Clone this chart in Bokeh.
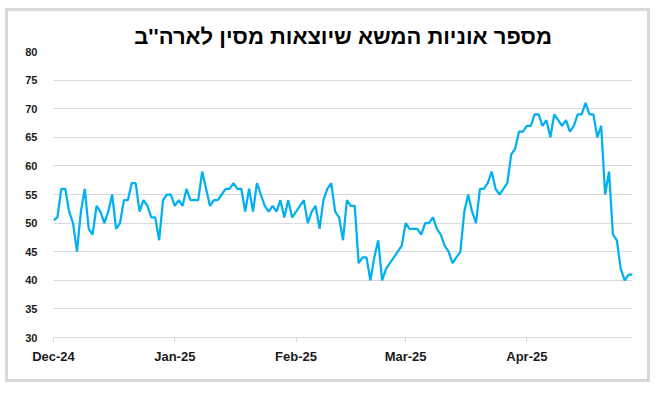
import pandas as pd
from bokeh.plotting import figure
from bokeh.models import Range1d, DatetimeTickFormatter, MonthsTicker, SingleIntervalTicker
from bokeh.embed import file_html
from bokeh.resources import INLINE

title_text = "מספר אוניות המשא שיוצאות מסין לארה''ב"
start_date = "2024-12-01"
axis_end = "2025-04-28"

ships = [
    50.5, 51, 56, 56, 52, 50, 45, 52, 56, 49,
    48, 53, 52, 50, 52, 55, 49, 50, 54, 54,
    57, 57, 52, 54, 53, 51, 51, 47, 54,
    55, 55, 53, 54, 53, 56, 54, 54, 54, 59,
    56, 53, 54, 54, 55, 56, 56, 57, 56, 56,
    52, 56, 52, 57, 55, 53, 52, 53, 52,
    54, 51, 54, 51, 52, 53, 54, 50, 52, 53,
    49, 54, 56, 57, 52, 51, 47, 54, 53, 53,
    43, 44, 44, 40, 44, 47, 40, 42, 43, 44,
    45, 46, 50, 49, 49, 49, 48, 50, 50, 51,
    49, 48, 46, 45, 43, 44, 45, 52, 55, 52,
    50, 56, 56, 57, 59, 56, 55, 56, 57, 62,
    63, 66, 66, 67, 67, 69, 69, 67, 68, 65,
    69, 68, 67, 68, 66, 67, 69, 69, 71, 69,
    69, 65, 67, 55, 59, 48, 47, 42, 40, 41,
    41,
]
dates = pd.date_range(start_date, periods=len(ships), freq="D")

p = figure(width=645, height=374, x_axis_type="datetime",
           output_backend="svg", toolbar_location=None,
           x_range=Range1d(pd.Timestamp(start_date), pd.Timestamp(axis_end)),
           y_range=Range1d(30, 80),
           min_border_left=45, min_border_right=21,
           min_border_top=40, min_border_bottom=48)
p.margin = (8, 0, 0, 5)
p.styles = {"border": "3px solid #D9D9D9"}
p.outline_line_color = None
p.background_fill_color = "white"
p.border_fill_color = "white"

p.line(dates, ships, line_color="#00B0F0", line_width=2.25)

p.title.text = title_text
p.title.align = "center"
p.title.offset = 16
p.title.standoff = 6
p.title.text_font = "Liberation Sans"
p.title.text_font_size = "22px"
p.title.text_font_style = "bold"
p.title.text_color = "#000000"

p.xgrid.grid_line_color = None
p.ygrid.grid_line_color = "#D9D9D9"
p.ygrid.grid_line_width = 1

ya = p.yaxis[0]
ya.ticker = SingleIntervalTicker(interval=5)
ya.axis_line_color = None
ya.major_tick_line_color = None
ya.minor_tick_line_color = None
ya.major_label_text_font = "Liberation Sans"
ya.major_label_text_font_size = "11px"
ya.major_label_text_font_style = "bold"
ya.major_label_text_color = "#1A1A1A"
ya.major_label_standoff = 10

xa = p.xaxis[0]
xa.ticker = MonthsTicker(months=list(range(12)))
xa.formatter = DatetimeTickFormatter(months="%b-%y", days="%b-%y")
xa.axis_line_color = "#D9D9D9"
xa.major_tick_line_color = "#D9D9D9"
xa.major_tick_in = 0
xa.major_tick_out = 5
xa.minor_tick_line_color = None
xa.major_label_text_font = "Liberation Sans"
xa.major_label_text_font_size = "13px"
xa.major_label_text_font_style = "bold"
xa.major_label_text_color = "#1A1A1A"
xa.major_label_standoff = 6

open("out.html", "w").write(file_html(p, INLINE))
